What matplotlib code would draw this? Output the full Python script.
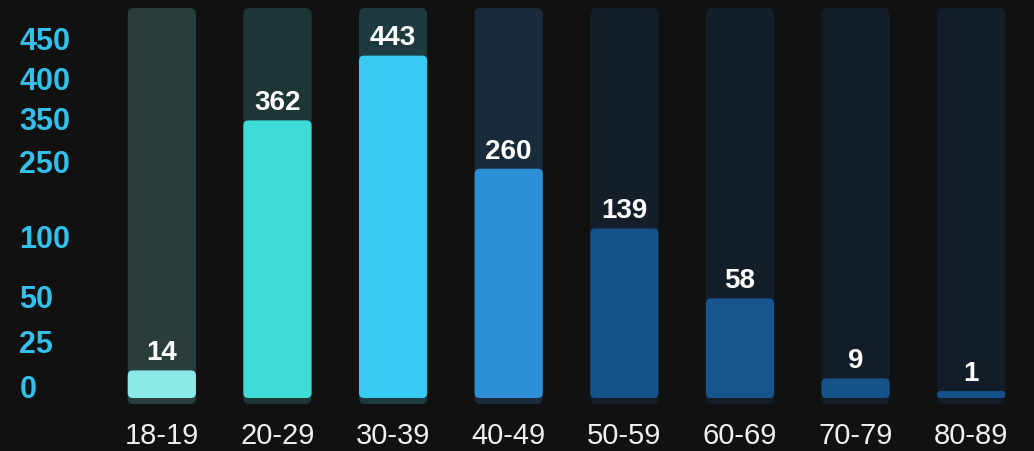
import numpy as np
import matplotlib.pyplot as plt
from matplotlib.patches import FancyBboxPatch
from matplotlib.transforms import blended_transform_factory

age_groups = ["18-19", "20-29", "30-39", "40-49", "50-59", "60-69", "70-79", "80-89"]
counts = [14, 362, 443, 260, 139, 58, 9, 1]
tick_values = [0, 25, 50, 100, 250, 350, 400, 450]

fill_colors = ["#8beae8", "#3fdbd6", "#38caf0", "#2d90d6",
               "#16528a", "#16558e", "#16528a", "#16528a"]
track_colors = ["#2a3d3d", "#1c3636", "#1c3a40", "#192b3a",
                "#131e2a", "#131e2b", "#131d29", "#131d29"]

# the original axis is uneven, so map value -> height with knots
scale_vals = [0, 1, 25, 50, 100, 250, 350, 400, 450]
scale_pos = [0, 7, 45, 90, 150, 225, 268, 308, 348]

def fwd(v):
    return np.interp(v, scale_vals, scale_pos)

def inv(p):
    return np.interp(p, scale_pos, scale_vals)

bg = "#111111"
W, H = 10.34, 4.51
fig = plt.figure(figsize=(W, H), dpi=100, facecolor=bg)
ax_h = scale_pos[-1] / (H * 100)
ax_rect = [0.1006, 0.1175, 0.8946, ax_h]
ax = fig.add_axes(ax_rect)
ax.set_facecolor(bg)
for s in ax.spines.values():
    s.set_visible(False)

ax.set_yscale("function", functions=(fwd, inv))
ax.set_ylim(0, 450)
ax.set_xlim(-0.5, 7.5)

px_x = ax_rect[2] * W * 100 / 8      # pixels per bar slot
px_y = ax_rect[3] * H * 100          # pixels of axes height
aspect = px_x / px_y
bw = 0.59

trans = blended_transform_factory(ax.transData, ax.transAxes)
to_axes = ax.transData + ax.transAxes.inverted()

# background tracks
for i in range(len(counts)):
    y0, y1 = -6 / px_y, 390 / px_y
    r = 6 / px_x
    p = FancyBboxPatch((i - bw / 2, y0), bw, y1 - y0,
                       boxstyle=f"round,pad=0,rounding_size={r}",
                       mutation_aspect=aspect, transform=trans,
                       fc=track_colors[i], ec="none", clip_on=False, zorder=1)
    ax.add_patch(p)

# value bars
for i, v in enumerate(counts):
    top = to_axes.transform((i, v))[1]
    h_px = top * px_y
    r = min(5, h_px / 2) / px_x
    p = FancyBboxPatch((i - bw / 2, 0), bw, top,
                       boxstyle=f"round,pad=0,rounding_size={r}",
                       mutation_aspect=aspect, transform=trans,
                       fc=fill_colors[i], ec="none", clip_on=False, zorder=2)
    ax.add_patch(p)
    ax.annotate(str(v), (i, v), xytext=(0, 3), textcoords="offset points",
                ha="center", va="bottom", color="white", fontsize=20,
                fontweight="bold", family="Liberation Sans", zorder=3)

ax.set_xticks(range(len(age_groups)))
ax.set_xticklabels(age_groups, family="Liberation Sans", fontsize=21, color="#f0f0f0")
ax.tick_params(axis="x", length=0, pad=17)

ax.set_yticks(tick_values)
ax.set_yticklabels([str(t) for t in tick_values], family="Liberation Sans",
                   fontsize=22, fontweight="bold", color="#33c0ea")
ax.yaxis.set_minor_locator(plt.NullLocator())
ax.tick_params(axis="y", length=0, pad=61)
for lbl in ax.get_yticklabels():
    lbl.set_ha("left")
    lbl.set_va("baseline")

fig.savefig("out.png", dpi=100, facecolor=bg)
